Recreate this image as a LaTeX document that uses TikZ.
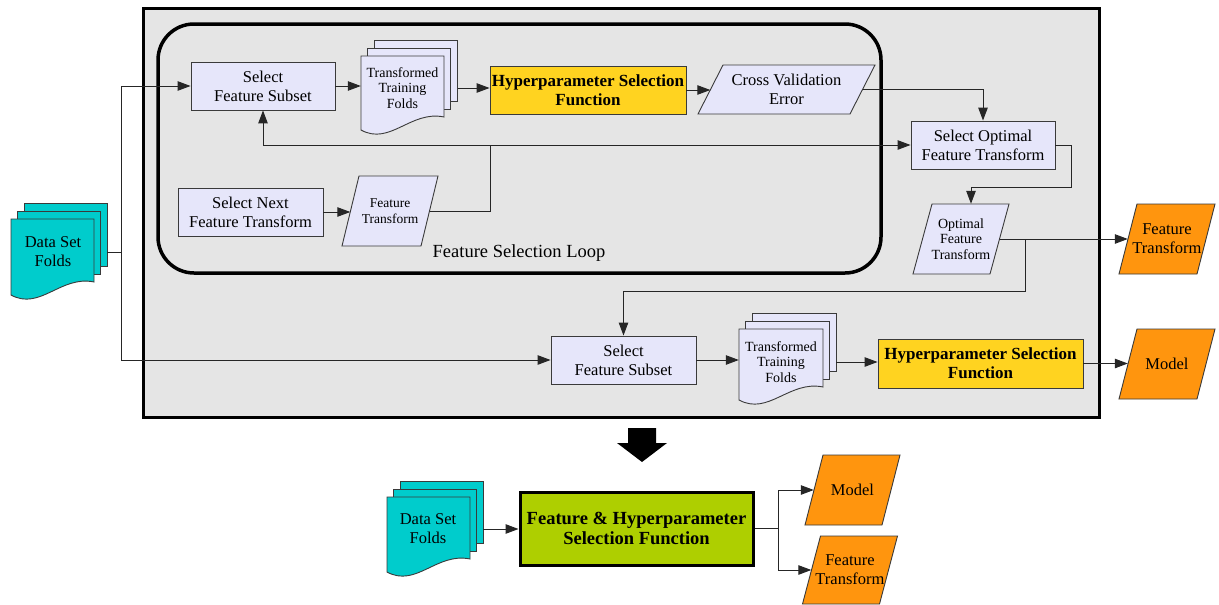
\documentclass[tikz,border=0pt]{standalone}
\usepackage{fontspec}
\setmainfont{Liberation Serif}
\usetikzlibrary{arrows.meta}

\definecolor{panelgray}{HTML}{E5E5E5}
\definecolor{lav}{HTML}{E6E6FA}
\definecolor{gold}{HTML}{FFD320}
\definecolor{orng}{HTML}{FF950E}
\definecolor{tealfill}{HTML}{00CCCC}
\definecolor{limefill}{HTML}{AECF00}
\definecolor{edgecol}{HTML}{3A3A3A}

% three stacked pages: left, top, right, bottom-left, fill
\newcommand\pagestack[5]{%
  \foreach \d in {13,6.5}{%
    \draw[shapeline, fill=#5] (#1+\d, #2-\d*1.2) rectangle (#3+\d, #4-13-\d*1.2);
  }
  \draw[shapeline, fill=#5] (#1,#2) -- (#3,#2) -- (#3,#4-13)
    .. controls (#1+0.6*#3-0.6*#1, #4-20) and (#1+0.35*#3-0.35*#1, #4+16) .. (#1,#4) -- cycle;
}

% parallelogram with a named node: name, cx, cy, mid width, height, slant, fill, font, text
\newcommand\paranode[9]{%
  \draw[shapeline, fill=#7] (#2-#4/2-#6/2, #3+#5/2) -- (#2-#4/2+#6/2, #3-#5/2)
    -- (#2+#4/2+#6/2, #3-#5/2) -- (#2+#4/2-#6/2, #3+#5/2) -- cycle;
  \node[inner sep=0, minimum width=#4, minimum height=#5, align=center, font=#8] (#1) at (#2,#3) {#9};
}

\tikzset{
  shapeline/.style={draw=edgecol, line width=0.9pt},
  conn/.style={draw=black!85, line width=1pt},
  arr/.style={conn, -{Triangle[length=13pt,width=9.5pt]}},
  txt/.style={font=\fontsize{16.5}{19}\selectfont, align=center},
  box/.style={shapeline, fill=lav, txt, inner sep=0},
  hyp/.style={shapeline, fill=gold, inner sep=0, align=center,
    font=\fontsize{17}{19}\selectfont\bfseries},
  stacktext/.style={inner sep=0, align=center, font=\fontsize{14}{15.5}\selectfont},
}

\begin{document}
\begin{tikzpicture}[x=1pt, y=-1pt]
\useasboundingbox (0,0) rectangle (1219,605);

% outer panel and the feature selection loop
\draw[line width=3pt, fill=panelgray] (143,8) rectangle (1099,417);
\draw[line width=3.5pt, rounded corners=36pt] (158,24) rectangle (881,273);
\node[font=\fontsize{18.5}{20}\selectfont] (looplabel) at (519,253) {Feature Selection Loop};

% data set folds (left)
\pagestack{11}{219}{94}{295}{tealfill}
\node[txt, inner sep=0] (dsf) at (53,252) {Data Set\\Folds};
\coordinate (dsf-r) at (107,252);
\coordinate (trunk) at (121,252);

% loop contents
\node[box, minimum width=144, minimum height=48] (sfs1) at (263,86) {Select\\Feature Subset};
\pagestack{361}{56}{444}{130}{lav}
\node[stacktext, minimum width=83, minimum height=60] (ttf1) at (402.5,88) {Transformed\\Training\\Folds};
\coordinate (ttf1-r) at (458,88);
\node[hyp, minimum width=196, minimum height=48] (hsf1) at (588,90) {Hyperparameter Selection\\Function};
\paranode{cve}{786.5}{89.5}{152}{49}{25}{lav}{\fontsize{16.5}{19}\selectfont}{Cross Validation\\Error}
\node[box, minimum width=145, minimum height=48] (snf) at (250.5,212) {Select Next\\Feature Transform};
\paranode{ft1}{390}{211}{79}{70}{17}{lav}{\fontsize{13.5}{16}\selectfont}{Feature\\Transform}
\coordinate (fb) at (490,145);

% optimal transform
\node[box, minimum width=144, minimum height=48] (sof) at (983,145) {Select Optimal\\Feature Transform};
\paranode{oft}{961}{239}{77}{70}{19}{lav}{\fontsize{14}{15.5}\selectfont}{Optimal\\Feature\\Transform}
\paranode{ftout}{1167}{239}{78}{70}{18}{orng}{\fontsize{16.5}{19}\selectfont}{Feature\\Transform}
\coordinate (split) at (1025,239);

% final training row
\node[box, minimum width=145, minimum height=48] (sfs2) at (623.5,360) {Select\\Feature Subset};
\pagestack{739}{329}{823}{400}{lav}
\node[stacktext, minimum width=84, minimum height=60] (ttf2) at (781,362) {Transformed\\Training\\Folds};
\coordinate (ttf2-r) at (836,362);
\node[hyp, minimum width=205, minimum height=49] (hsf2) at (980.5,363.5) {Hyperparameter Selection\\Function};
\paranode{model1}{1167}{364}{78}{70}{18}{orng}{\fontsize{16.5}{19}\selectfont}{Model}

% connectors of the panel
\draw[conn] (dsf-r) -- (trunk);
\draw[arr] (trunk) |- (sfs1.west);
\draw[arr] (trunk) |- (sfs2.west);
\draw[arr] (sfs1.east) -- (sfs1.east -| ttf1.west);
\draw[arr] (ttf1-r) -- (ttf1-r -| hsf1.west);
\draw[arr] (hsf1.east) -- (hsf1.east -| cve.west);
\draw[arr] (cve.east) -| (sof.north);
\draw[arr] (snf.east) -- (snf.east -| ft1.west);
\draw[conn] (ft1.east) -| (fb);
\draw[arr] (fb) -| (sfs1.south);
\draw[arr] (fb) -- (sof.west);
\draw[arr] (sof.east) -- ++(16,0) -- ++(0,42) -| ([xshift=10pt]oft.north);
\draw[arr] (oft.east) -- (ftout.west);
\draw[arr] (split) -- ++(0,52) -| (sfs2.north);
\draw[arr] (sfs2.east) -- (sfs2.east -| ttf2.west);
\draw[arr] (ttf2-r) -- (ttf2-r -| hsf2.west);
\draw[arr] (hsf2.east) -- (hsf2.east -| model1.west);

% block arrow
\fill[black] (628,428) -- (656,428) -- (656,443) -- (667,443) -- (642,462)
  -- (617,443) -- (628,443) -- cycle;

% combined function
\pagestack{387}{497}{470}{572}{tealfill}
\node[txt, inner sep=0] (dsf2) at (428,529) {Data Set\\Folds};
\coordinate (dsf2-r) at (483,529);
\node[draw=black, line width=3pt, fill=limefill, inner sep=0, align=center,
  minimum width=233, minimum height=73,
  font=\fontsize{18.5}{20}\selectfont\bfseries] (fhsf) at (636.5,528.5)
  {Feature \& Hyperparameter\\Selection Function};
\paranode{model2}{852.5}{490}{77}{70}{18}{orng}{\fontsize{16.5}{19}\selectfont}{Model}
\paranode{ft2}{850}{570}{77}{68}{18}{orng}{\fontsize{16.5}{19}\selectfont}{Feature\\Transform}
\coordinate (split2) at (778,528.5);

\draw[arr] (dsf2-r) -- (dsf2-r -| fhsf.west);
\draw[conn] (fhsf.east) -- (split2);
\draw[arr] (split2) |- (model2.west);
\draw[arr] (split2) |- (ft2.west);
\end{tikzpicture}
\end{document}
